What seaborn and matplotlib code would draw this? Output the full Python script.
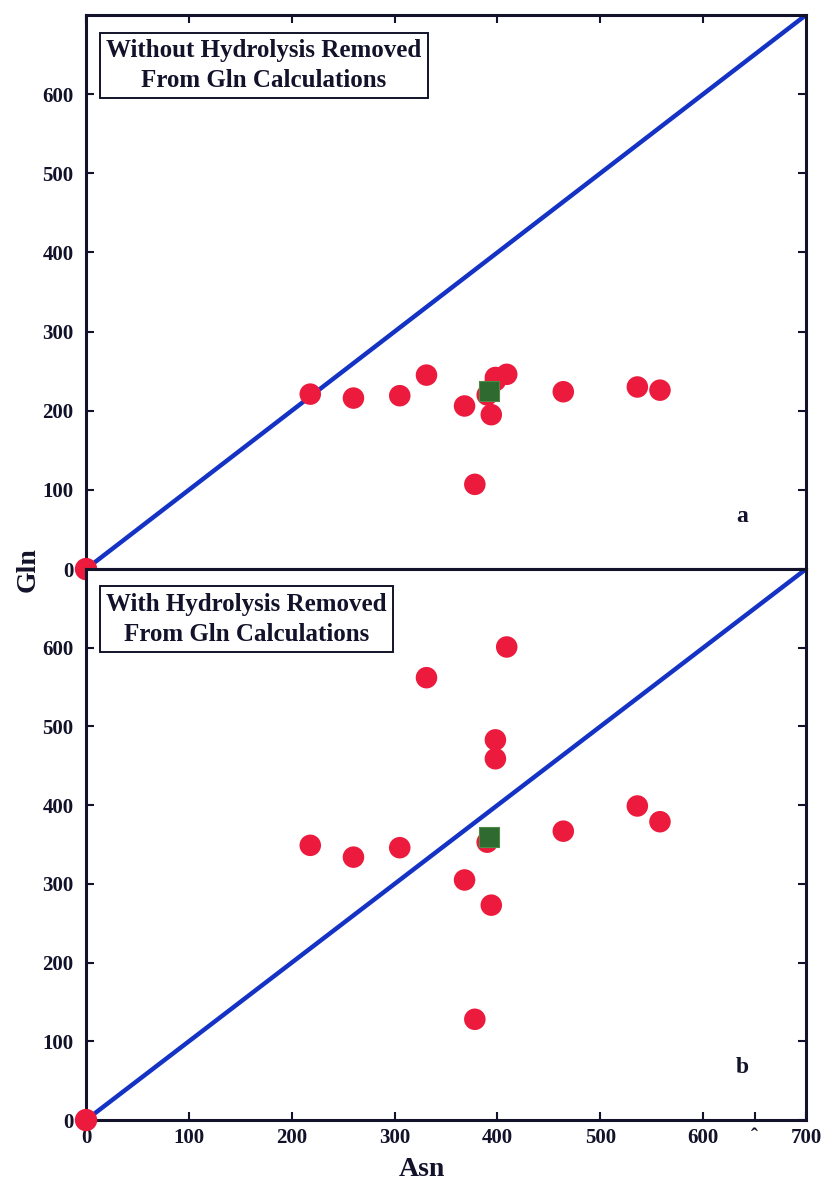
import matplotlib
matplotlib.use("Agg")
import matplotlib.pyplot as plt
import seaborn as sns
import pandas as pd

# Asn / Gln values per sample
asn = [218, 260, 305, 331, 368, 390, 398, 398, 409, 394, 378, 464, 536, 558]
gln_raw = [221, 216, 219, 245, 206, 220, 238, 242, 246, 195, 107, 224, 230, 226]
gln_corr = [349, 334, 346, 562, 305, 353, 459, 483, 601, 273, 128, 367, 399, 379]

# reference sample (square marker)
ref_asn = [392]
ref_gln_raw = [225]
ref_gln_corr = [360]

# identity line endpoints and axis ticks
line_vals = [0, 700]
yticks = [0, 100, 200, 300, 400, 500, 600]
xticks = [0, 100, 200, 300, 400, 500, 600, 650, 700]
xticklabels = ["0", "100", "200", "300", "400", "500", "600", "\u02c6", "700"]

panel_titles = ["Without Hydrolysis Removed\nFrom Gln Calculations",
                "With Hydrolysis Removed\nFrom Gln Calculations"]
panel_tags = ["a", "b"]

sns.set_style("ticks")
plt.rcParams["font.family"] = ["Liberation Serif", "DejaVu Serif"]
plt.rcParams["font.weight"] = "bold"

RED = "#ec1a3c"
GREEN = "#2f6a30"
BLUE = "#1433c4"
INK = "#12122a"

fig = plt.figure(figsize=(8.24, 11.87), dpi=100)
ax_top = fig.add_axes([0.1044, 0.5206, 0.8738, 0.4668])
ax_bot = fig.add_axes([0.1044, 0.0564, 0.8738, 0.4642])

line_df = pd.DataFrame({"x": line_vals, "y": line_vals})
origin_df = pd.DataFrame({"x": [0], "y": [0]})

for ax, gln, ref_gln, title, tag in [
        (ax_top, gln_raw, ref_gln_raw, panel_titles[0], panel_tags[0]),
        (ax_bot, gln_corr, ref_gln_corr, panel_titles[1], panel_tags[1])]:
    sns.lineplot(data=line_df, x="x", y="y", ax=ax, color=BLUE, lw=3.2,
                 zorder=2)
    sns.scatterplot(x=asn, y=gln, ax=ax, color=RED, s=240, edgecolor="none",
                    zorder=3)
    sns.scatterplot(x=ref_asn, y=ref_gln, ax=ax, color=GREEN, marker="s",
                    s=190, edgecolor="#4f8a45", linewidth=0.8, zorder=4)
    sns.scatterplot(data=origin_df, x="x", y="y", ax=ax, color=RED,
                    s=260, edgecolor="none", zorder=5)
    for c in ax.collections:
        c.set_clip_on(False)

    ax.set_xlim(0, 700)
    ax.set_ylim(0, 700)
    ax.set_yticks(yticks)
    ax.set_xlabel("")
    ax.set_ylabel("")
    for s in ax.spines.values():
        s.set_linewidth(2.2)
        s.set_color(INK)
    ax.tick_params(direction="in", length=6, width=1.5, colors=INK,
                   labelsize=15, left=True, right=True)
    ax.tick_params(axis="y", pad=9)
    for lab in ax.get_yticklabels():
        lab.set_fontweight("bold")

    ax.text(0.028, 0.957, title, transform=ax.transAxes, ha="left", va="top",
            fontsize=18, fontweight="bold", color=INK, linespacing=1.4,
            multialignment="center",
            bbox=dict(boxstyle="square,pad=0.25", fc="white", ec=INK, lw=1.4))
    ax.text(0.912, 0.095, tag, transform=ax.transAxes, ha="center",
            va="center", fontsize=17, fontweight="bold", color=INK)

ax_top.set_xticks(xticks[:7])
ax_top.tick_params(axis="x", top=True, bottom=False, labelbottom=False,
                   labeltop=False)
ax_bot.set_xticks(xticks)
ax_bot.set_xticklabels(xticklabels)
ax_bot.tick_params(axis="x", top=False, bottom=True, labelbottom=True, pad=6)
for lab in ax_bot.get_xticklabels():
    lab.set_fontweight("bold")

fig.text(0.034, 0.52, "Gln", rotation=90, ha="center", va="center",
         fontsize=20, fontweight="bold", color=INK)
fig.text(0.512, 0.015, "Asn", ha="center", va="center",
         fontsize=20, fontweight="bold", color=INK)

fig.savefig("out.png", dpi=100, facecolor="white")
